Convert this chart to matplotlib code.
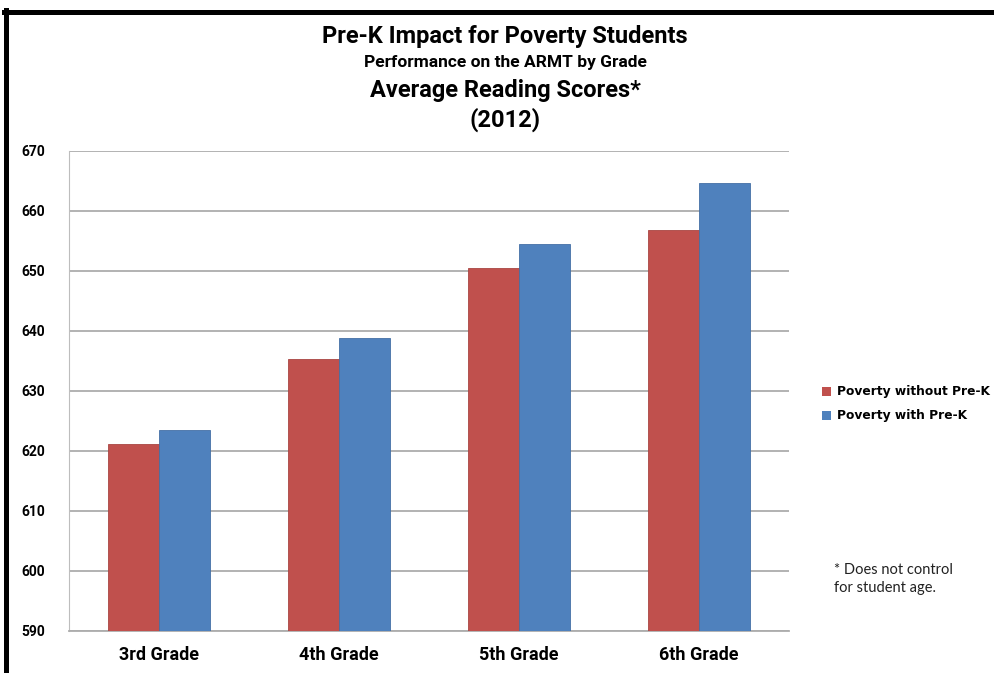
import numpy as np
import matplotlib
matplotlib.use('Agg')
import matplotlib.pyplot as plt
from matplotlib.patches import Patch
from matplotlib.lines import Line2D

# DATA
grades = ['3rd Grade', '4th Grade', '5th Grade', '6th Grade']
without_prek = [621.1, 635.3, 650.5, 656.8]
with_prek = [623.5, 638.8, 654.5, 664.7]
series_names = ['Poverty without Pre-K', 'Poverty with Pre-K']
yticks = [590, 600, 610, 620, 630, 640, 650, 660, 670]

RED = '#C0504D'
BLUE = '#4F81BD'
W, H = 995, 673
BOLD_FONT = 'Roboto'

fig = plt.figure(figsize=(W/100, H/100), dpi=100)
ax = fig.add_axes([69/W, 1-631/H, 720/W, 480/H])

# BARS
x = np.arange(len(grades))
bw = 0.285
ax.bar(x - bw/2, without_prek, bw, color=RED, edgecolor='#A94542', linewidth=0.6, zorder=3)
ax.bar(x + bw/2, with_prek, bw, color=BLUE, edgecolor='#4470A6', linewidth=0.6, zorder=3)

ax.set_xlim(-0.5, len(grades)-0.5)
ax.set_ylim(yticks[0], yticks[-1])
ax.set_yticks(yticks)
ax.set_xticks(x)
ax.set_xticklabels(grades, fontfamily=BOLD_FONT, fontweight='bold', fontsize=13)
ax.set_yticklabels([str(t) for t in yticks], fontfamily=BOLD_FONT, fontweight='bold', fontsize=10)
ax.tick_params(axis='y', length=0, pad=17)
ax.tick_params(axis='x', length=0, pad=11)

# GRID AND AXES
ax.yaxis.grid(True, color='#ADADAD', linewidth=1.3, zorder=0)
ax.set_axisbelow(True)
for s in ['top', 'right']:
    ax.spines[s].set_visible(False)
ax.spines['left'].set_color('#BDBDBD')
ax.spines['bottom'].set_color('#ADADAD')
ax.spines['bottom'].set_linewidth(1.3)

# TITLES
cx = 505/W
fig.text(cx, 1-37/H, 'Pre-K Impact for Poverty Students', ha='center', va='center',
         fontfamily=BOLD_FONT, fontweight='bold', fontsize=17)
fig.text(cx, 1-63/H, 'Performance on the ARMT by Grade', ha='center', va='center',
         fontfamily=BOLD_FONT, fontweight='bold', fontsize=12.5)
fig.text(cx, 1-91/H, 'Average Reading Scores*', ha='center', va='center',
         fontfamily=BOLD_FONT, fontweight='bold', fontsize=17)
fig.text(cx, 1-120/H, '(2012)', ha='center', va='center',
         fontfamily=BOLD_FONT, fontweight='bold', fontsize=17)

# LEGEND
handles = [Patch(facecolor=RED), Patch(facecolor=BLUE)]
fig.legend(handles, series_names, loc='center left', bbox_to_anchor=(811/W, 1-404/H),
           frameon=False, handlelength=0.7, handleheight=0.7, handletextpad=0.5,
           labelspacing=0.9, prop={'family': 'DejaVu Sans', 'weight': 'bold', 'size': 8.8})

# FOOTNOTE
fig.text(834/W, 1-579/H, '* Does not control\nfor student age.', ha='left', va='center',
         fontfamily='Lato', fontsize=10.5, color='#222222', linespacing=1.3)

# BLACK FRAME (LEFT AND TOP)
fig.add_artist(Line2D([6/W, 6/W], [0, 1-10/H], color='black', linewidth=3.6, transform=fig.transFigure))
fig.add_artist(Line2D([4/W, 1], [1-12/H, 1-12/H], color='black', linewidth=3.6, transform=fig.transFigure))

fig.savefig('out.png', dpi=100)
